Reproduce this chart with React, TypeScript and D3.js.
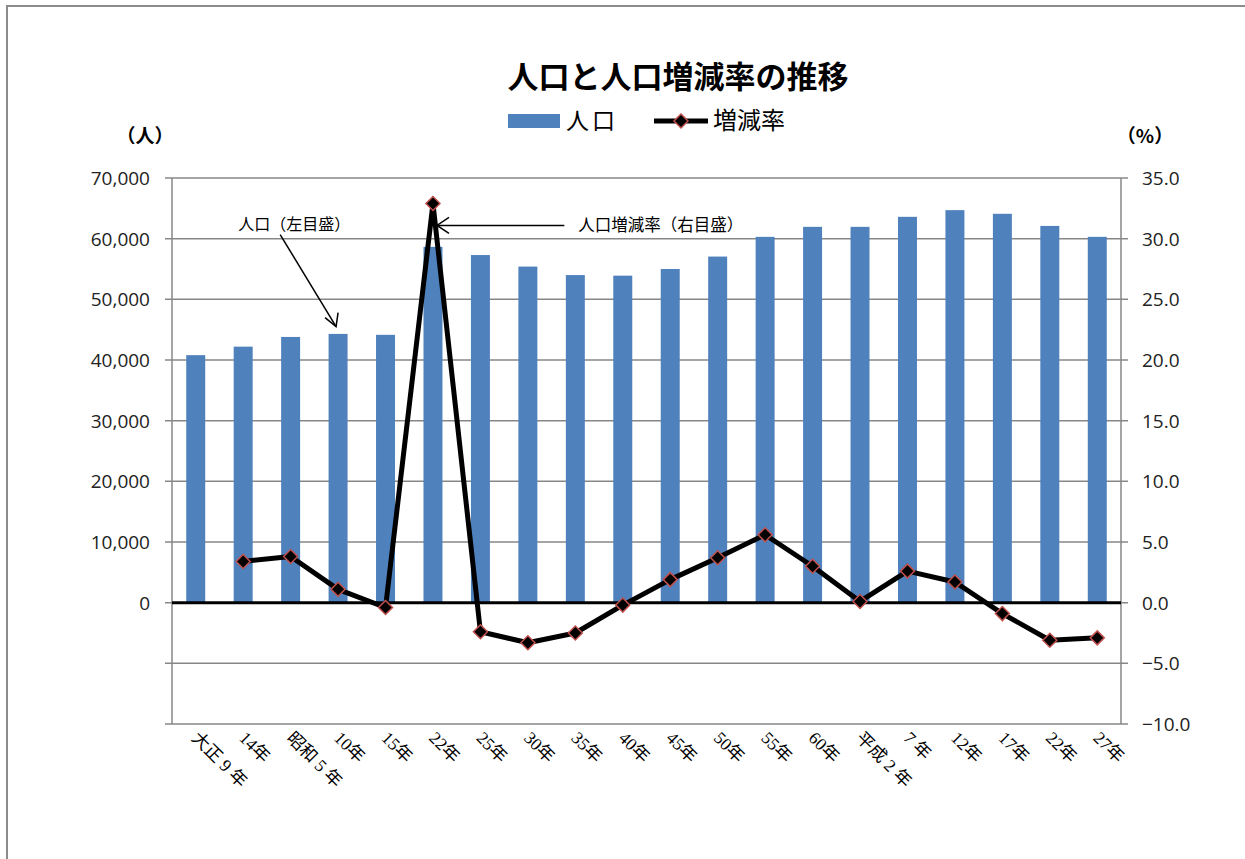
import React from "react";
import * as d3 from "d3";

// categories (x axis)
const years = [
  "大正 9 年", "14年", "昭和 5 年", "10年", "15年", "22年", "25年", "30年", "35年", "40年",
  "45年", "50年", "55年", "60年", "平成 2 年", "7 年", "12年", "17年", "22年", "27年",
];
// population (left axis)
const population = [
  40800, 42200, 43800, 44300, 44150, 58650, 57300, 55400, 54000, 53900,
  55000, 57050, 60300, 61950, 61950, 63600, 64700, 64100, 62100, 60300,
];
// growth rate % (right axis), first census has none
const rate: (number | null)[] = [
  null, 3.4, 3.8, 1.1, -0.4, 32.9, -2.4, -3.3, -2.5, -0.2,
  1.9, 3.7, 5.6, 3.0, 0.1, 2.6, 1.7, -0.9, -3.1, -2.9,
];
const leftTicks = [0, 10000, 20000, 30000, 40000, 50000, 60000, 70000];
const rightTicks = [-10, -5, 0, 5, 10, 15, 20, 25, 30, 35];

const W = 1245;
const H = 859;
const plot = { left: 172, right: 1121, top: 178, bottom: 724 };
const sans = "'Open Sans', 'Noto Sans CJK JP', sans-serif";
const gothic = "'Noto Sans CJK JP', sans-serif";
const serif = "'Liberation Serif', 'DejaVu Serif', 'Noto Sans CJK JP', serif";

export default function App() {
  const band = d3.scaleBand<string>().domain(years.map((d, i) => i + "")).range([plot.left, plot.right]);
  const yL = d3.scaleLinear().domain([-20000, 70000]).range([plot.bottom, plot.top]);
  const yR = d3.scaleLinear().domain([-10, 35]).range([plot.bottom, plot.top]);
  const cx = (i: number) => (band(i + "") as number) + band.bandwidth() / 2;
  const barW = band.bandwidth() * 0.4;

  const gridVals = d3.range(-20000, 70001, 10000);
  const pts = rate.map((r, i) => ({ r, i })).filter((d) => d.r !== null) as { r: number; i: number }[];
  const line = d3.line<{ r: number; i: number }>().x((d) => cx(d.i)).y((d) => yR(d.r));
  const diamond = (px: number, py: number, s = 7) =>
    `M${px},${py - s}L${px + s},${py}L${px},${py + s}L${px - s},${py}Z`;

  // annotation anchors from the scales
  const a1Text = { x: cx(1) - 5, y: yL(61500) };
  const a1End = { x: cx(3) - 2, y: yL(45500) };
  const a2Text = { x: cx(8) + 3, y: yR(30.6) };
  const a2End = { x: cx(5) + 4, y: yR(30.9) };

  return (
    <svg width={W} height={H} style={{ position: "absolute", left: 0, top: 0, background: "#fff" }}>
      {/* outer frame */}
      <path d={`M7,${H}V6H${W}`} fill="none" stroke="#8c8c8c" strokeWidth={2} />

      <text x={678} y={88} textAnchor="middle" fontFamily={gothic} fontWeight="bold" fontSize={31}>
        人口と人口増減率の推移
      </text>

      {/* legend */}
      <rect x={508} y={114} width={52} height={14} fill="#4f81bd" />
      <text x={566} y={129} fontFamily={gothic} fontSize={23} letterSpacing={3}>人口</text>
      <line x1={654} x2={708} y1={121} y2={121} stroke="#000" strokeWidth={5} />
      <path d={diamond(681, 121)} fill="#000" stroke="#c0504d" strokeWidth={1.5} />
      <text x={713} y={129} fontFamily={gothic} fontSize={24}>増減率</text>

      <text x={145} y={143} textAnchor="middle" fontFamily={gothic} fontWeight="bold" fontSize={19}>（人）</text>
      <text x={1145} y={143} textAnchor="middle" fontFamily={gothic} fontWeight="bold" fontSize={19}>（%）</text>

      {/* gridlines */}
      {gridVals.map((v) => (
        <line key={v} x1={plot.left - 7} x2={plot.right + 7} y1={yL(v)} y2={yL(v)} stroke="#878787" strokeWidth={1.5} />
      ))}
      <line x1={plot.left} x2={plot.left} y1={plot.top} y2={plot.bottom} stroke="#878787" strokeWidth={1.5} />
      <line x1={plot.right} x2={plot.right} y1={plot.top} y2={plot.bottom} stroke="#878787" strokeWidth={1.5} />

      {/* bars */}
      {population.map((v, i) => (
        <rect key={i} x={cx(i) - barW / 2} y={yL(v)} width={barW} height={yL(0) - yL(v)} fill="#4f81bd" />
      ))}

      {/* zero line */}
      <line x1={plot.left} x2={plot.right} y1={yL(0)} y2={yL(0)} stroke="#000" strokeWidth={3} />

      {/* left axis labels */}
      {leftTicks.map((v) => (
        <text key={v} x={150} y={yL(v) + 7} textAnchor="end" fontFamily={sans} fontSize={19} fill="#222">
          {d3.format(",")(v)}
        </text>
      ))}
      {/* right axis labels */}
      {rightTicks.map((v) => (
        <text key={v} x={1142} y={yR(v) + 7} fontFamily={sans} fontSize={19} fill="#222">
          {d3.format(".1f")(v)}
        </text>
      ))}

      {/* x labels */}
      {years.map((d, i) => (
        <text key={i} transform={`translate(${cx(i) - 5},${plot.bottom + 15}) rotate(45)`} fontFamily={serif} fontSize={17.5}>
          {d}
        </text>
      ))}

      {/* rate line */}
      <path d={line(pts) as string} fill="none" stroke="#000" strokeWidth={5} strokeLinejoin="round" />
      {pts.map((d) => (
        <path key={d.i} d={diamond(cx(d.i), yR(d.r))} fill="#000" stroke="#c0504d" strokeWidth={1.5} />
      ))}

      {/* annotations */}
      <text x={a1Text.x} y={a1Text.y} fontFamily={gothic} fontSize={16}>人口（左目盛）</text>
      <line x1={a1Text.x + 42} y1={a1Text.y + 5} x2={a1End.x} y2={a1End.y} stroke="#000" strokeWidth={1.5} />
      <path d={`M${a1End.x - 11},${a1End.y - 9}L${a1End.x},${a1End.y}L${a1End.x + 2},${a1End.y - 14}`} fill="none" stroke="#000" strokeWidth={1.5} />
      <text x={a2Text.x} y={a2Text.y} fontFamily={gothic} fontSize={16.5}>人口増減率（右目盛）</text>
      <line x1={a2Text.x - 14} y1={a2Text.y - 6} x2={a2End.x} y2={a2Text.y - 6} stroke="#000" strokeWidth={1.5} />
      <path d={`M${a2End.x + 12},${a2Text.y - 14}L${a2End.x},${a2Text.y - 6}L${a2End.x + 12},${a2Text.y + 2}`} fill="none" stroke="#000" strokeWidth={1.5} />
    </svg>
  );
}
